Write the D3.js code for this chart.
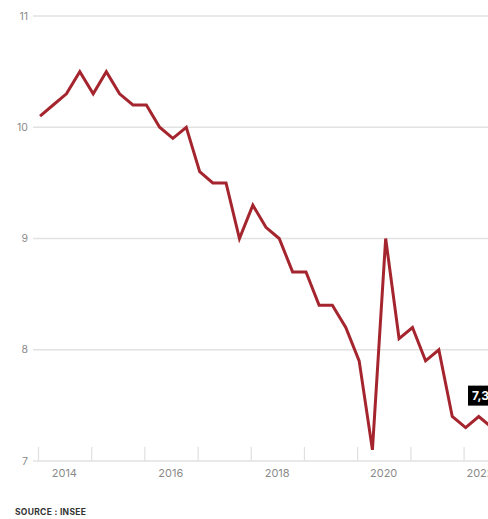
<!DOCTYPE html>
<html>
<head>
<meta charset="utf-8">
<script src="https://cdn.jsdelivr.net/npm/d3@7"></script>
<style>
  html, body { margin: 0; padding: 0; background: #fff; overflow: hidden; }
  svg { display: block; font-family: Inter, Roboto, "Noto Sans", sans-serif; }
</style>
</head>
<body>
<svg id="chart" width="488" height="519"></svg>
<script>
// Taux de chômage trimestriel (BIT), en % de la population active
const years = [2014, 2015, 2016, 2017, 2018, 2019, 2020, 2021, 2022];
const quarters = [
  "2014T1","2014T2","2014T3","2014T4",
  "2015T1","2015T2","2015T3","2015T4",
  "2016T1","2016T2","2016T3","2016T4",
  "2017T1","2017T2","2017T3","2017T4",
  "2018T1","2018T2","2018T3","2018T4",
  "2019T1","2019T2","2019T3","2019T4",
  "2020T1","2020T2","2020T3","2020T4",
  "2021T1","2021T2","2021T3","2021T4",
  "2022T1","2022T2","2022T3"
];
const rates = [
  10.1, 10.2, 10.3, 10.5,
  10.3, 10.5, 10.3, 10.2,
  10.2, 10.0, 9.9, 10.0,
  9.6, 9.5, 9.5, 9.0,
  9.3, 9.1, 9.0, 8.7,
  8.7, 8.4, 8.4, 8.2,
  7.9, 7.1, 9.0, 8.1,
  8.2, 7.9, 8.0, 7.4,
  7.3, 7.4, 7.3
];
const yTicks = [7, 8, 9, 10, 11];
const xLabelYears = [2014, 2016, 2018, 2020, 2022];
const lastLabel = "7,3";
const source = "SOURCE : INSEE";

const parseQuarter = s => {
  const y = +s.slice(0, 4), q = +s.slice(5);
  return new Date(y, (q - 1) * 3, 15);
};
const data = quarters.map((q, i) => ({ date: parseQuarter(q), value: rates[i] }));

const svg = d3.select("#chart");

const x = d3.scaleTime()
  .domain([new Date(2014, 0, 1), new Date(2022, 0, 1)])
  .range([38, 463.6]);
const y = d3.scaleLinear().domain([7, 11]).range([461, 16]);

// horizontal grid
svg.append("g")
  .selectAll("line")
  .data(yTicks)
  .join("line")
  .attr("x1", 33).attr("x2", 488)
  .attr("y1", d => y(d)).attr("y2", d => y(d))
  .attr("stroke", "#e2e2e2")
  .attr("stroke-width", 1.5);

// y labels
svg.append("g")
  .selectAll("text")
  .data(yTicks)
  .join("text")
  .attr("x", 28)
  .attr("y", d => y(d))
  .attr("dy", "0.35em")
  .attr("text-anchor", "end")
  .attr("font-size", 10.5)
  .attr("fill", "#8a8a8a")
  .text(d => d);

// year boundary ticks on the baseline
const yearStarts = years.map(yr => new Date(yr, 0, 1));
const xAxis = d3.axisBottom(x)
  .tickValues(yearStarts)
  .tickSize(-14)
  .tickFormat("");
const gx = svg.append("g")
  .attr("transform", `translate(0,${y(7)})`)
  .call(xAxis);
gx.select(".domain").remove();
gx.selectAll(".tick line").attr("stroke", "#e0e0e0").attr("stroke-width", 1.2);

// year labels, centred on each year (kept from running far past the frame)
svg.append("g")
  .selectAll("text")
  .data(xLabelYears)
  .join("text")
  .attr("x", d => Math.min(x(new Date(d, 6, 1)), 480))
  .attr("y", 477)
  .attr("text-anchor", "middle")
  .attr("font-size", 11)
  .attr("fill", "#8a8a8a")
  .text(d => d);

// series line
const line = d3.line()
  .x(d => x(d.date))
  .y(d => y(d.value));

svg.append("path")
  .datum(data)
  .attr("d", line)
  .attr("fill", "none")
  .attr("stroke", "#a5252f")
  .attr("stroke-width", 3)
  .attr("stroke-linejoin", "miter")
  .attr("stroke-linecap", "butt");

// value tag for the latest quarter
const last = data[data.length - 1];
const tagX = x(last.date) - 24;
const tagY = y(last.value) - 42;
const tag = svg.append("g").attr("transform", `translate(${tagX},${tagY})`);
tag.append("rect")
  .attr("x", 0).attr("y", 0)
  .attr("width", 34).attr("height", 20)
  .attr("fill", "#000");
tag.append("text")
  .attr("x", 4).attr("y", 10)
  .attr("dy", "0.36em")
  .attr("font-size", 12)
  .attr("font-weight", 700)
  .attr("fill", "#fff")
  .text(lastLabel);

// source
svg.append("text")
  .attr("x", 15)
  .attr("y", 515)
  .attr("font-size", 8.5)
  .attr("font-weight", 700)
  .attr("letter-spacing", 0.3)
  .attr("fill", "#333")
  .text(source);
</script>
</body>
</html>
